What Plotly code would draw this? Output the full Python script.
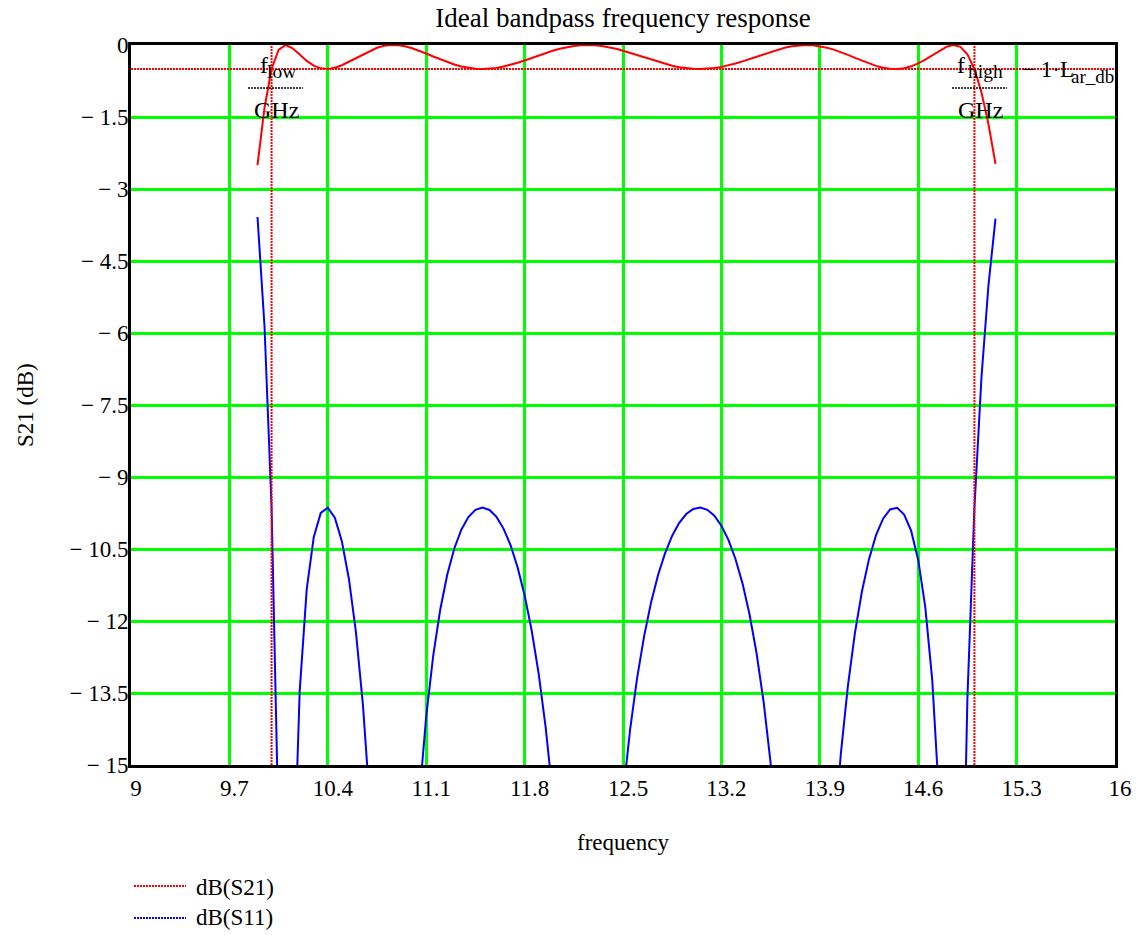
import plotly.graph_objects as go

# ---------------- data ----------------
freq_ghz = [9.90, 9.95, 10.00, 10.05, 10.10, 10.15, 10.20, 10.25, 10.30, 10.35,
            10.40, 10.45, 10.50, 10.55, 10.60, 10.65, 10.70, 10.75, 10.80, 10.85,
            10.90, 10.95, 11.00, 11.05, 11.10, 11.15, 11.20, 11.25, 11.30, 11.35,
            11.40, 11.45, 11.50, 11.55, 11.60, 11.65, 11.70, 11.75, 11.80, 11.85,
            11.90, 11.95, 12.00, 12.05, 12.10, 12.15, 12.20, 12.25, 12.30, 12.35,
            12.40, 12.45, 12.50, 12.55, 12.60, 12.65, 12.70, 12.75, 12.80, 12.85,
            12.90, 12.95, 13.00, 13.05, 13.10, 13.15, 13.20, 13.25, 13.30, 13.35,
            13.40, 13.45, 13.50, 13.55, 13.60, 13.65, 13.70, 13.75, 13.80, 13.85,
            13.90, 13.95, 14.00, 14.05, 14.10, 14.15, 14.20, 14.25, 14.30, 14.35,
            14.40, 14.45, 14.50, 14.55, 14.60, 14.65, 14.70, 14.75, 14.80, 14.85,
            14.90, 14.95, 15.00, 15.05, 15.10, 15.15]

s21_db = [-2.505, -1.301, -0.500, -0.100, -0.000, -0.068, -0.200, -0.331, -0.430, -0.486,
          -0.499, -0.475, -0.422, -0.349, -0.268, -0.187, -0.115, -0.057, -0.018, -0.001,
          -0.005, -0.028, -0.067, -0.118, -0.177, -0.239, -0.300, -0.357, -0.406, -0.447,
          -0.476, -0.494, -0.500, -0.494, -0.477, -0.449, -0.413, -0.370, -0.323, -0.269,
          -0.218, -0.168, -0.120, -0.079, -0.045, -0.020, -0.005, -0.000, -0.006, -0.022,
          -0.047, -0.080, -0.120, -0.165, -0.213, -0.262, -0.311, -0.356, -0.398, -0.434,
          -0.463, -0.484, -0.496, -0.500, -0.494, -0.479, -0.456, -0.424, -0.386, -0.341,
          -0.293, -0.242, -0.190, -0.141, -0.096, -0.057, -0.027, -0.008, -0.000, -0.005,
          -0.024, -0.055, -0.097, -0.148, -0.206, -0.267, -0.328, -0.385, -0.435, -0.472,
          -0.495, -0.499, -0.483, -0.444, -0.384, -0.304, -0.211, -0.117, -0.038, -0.000,
          -0.039, -0.193, -0.500, -0.985, -1.651, -2.478]

s11_db = [-3.582, -5.869, -9.636, -16.429, -47.4, -18.056, -13.465, -11.342, -10.253, -9.748,
          -9.641, -9.848, -10.339, -11.119, -12.228, -13.748, -15.839, -18.844, -23.72, -36.15,
          -29.59, -21.954, -18.159, -15.718, -13.993, -12.719, -11.759, -11.033, -10.490, -10.099,
          -9.834, -9.684, -9.636, -9.686, -9.831, -10.075, -10.421, -10.880, -11.465, -12.192,
          -13.097, -14.220, -15.628, -17.436, -19.858, -23.377, -29.59, -55.0, -28.74, -23.01,
          -19.676, -17.361, -15.628, -14.275, -13.194, -12.320, -11.611, -11.037, -10.580, -10.222,
          -9.955, -9.771, -9.665, -9.636, -9.683, -9.807, -10.015, -10.311, -10.707, -11.216,
          -11.860, -12.667, -13.677, -14.957, -16.614, -18.839, -22.062, -27.565, -48.7, -29.11,
          -22.652, -19.044, -16.581, -14.756, -13.350, -12.247, -11.381, -10.711, -10.212, -9.868,
          -9.677, -9.642, -9.781, -10.123, -10.728, -11.699, -13.232, -15.768, -20.644, -43.0,
          -20.515, -13.622, -9.636, -6.927, -5.000, -3.617]

f_low = 10.0
f_high = 15.0
L_ar_db = 0.5

x_ticks = [9, 9.7, 10.4, 11.1, 11.8, 12.5, 13.2, 13.9, 14.6, 15.3, 16]
x_tick_text = ["9", "9.7", "10.4", "11.1", "11.8", "12.5", "13.2", "13.9", "14.6", "15.3", "16"]
y_ticks = [0, -1.5, -3, -4.5, -6, -7.5, -9, -10.5, -12, -13.5, -15]
y_tick_text = ["0", "\u2212 1.5", "\u2212 3", "\u2212 4.5", "\u2212 6", "\u2212 7.5", "\u2212 9",
               "\u2212 10.5", "\u2212 12", "\u2212 13.5", "\u2212 15"]

series_names = ["dB(S21)", "dB(S11)"]
series_colors = ["#ff0000", "#0000ff"]

# ---------------- layout geometry ----------------
W, H = 1143, 935
ML, MR, MT, MB = 131, 28, 45, 170
PW, PH = W - ML - MR, H - MT - MB
FONT = "Liberation Serif, Times New Roman, serif"


def px(xp):
    return (xp - ML) / PW


def py(yp):
    return (H - MB - yp) / PH


fig = go.Figure()
fig.add_trace(go.Scatter(x=freq_ghz, y=s21_db, mode="lines", name=series_names[0],
                         line=dict(color=series_colors[0], width=2), showlegend=False))
fig.add_trace(go.Scatter(x=freq_ghz, y=s11_db, mode="lines", name=series_names[1],
                         line=dict(color=series_colors[1], width=2), showlegend=False))

shapes = []
# marker lines
for fx in (f_low, f_high):
    shapes.append(dict(type="line", xref="x", yref="paper", x0=fx, x1=fx, y0=0, y1=1,
                       line=dict(color="#ff0000", width=2, dash="2px,1px"), layer="above"))
shapes.append(dict(type="line", xref="paper", yref="y", x0=0, x1=1, y0=-L_ar_db, y1=-L_ar_db,
                   line=dict(color="#ff0000", width=2, dash="2px,1px"), layer="above"))
# fraction bars
for (a, b) in ((248, 303), (952, 1007)):
    shapes.append(dict(type="line", xref="paper", yref="paper", x0=px(a), x1=px(b),
                       y0=py(88), y1=py(88),
                       line=dict(color="black", width=1.5, dash="2px,1px"), layer="above"))
# legend samples
for i, yy in enumerate((886, 918)):
    shapes.append(dict(type="line", xref="paper", yref="paper", x0=px(134), x1=px(186),
                       y0=py(yy), y1=py(yy),
                       line=dict(color=series_colors[i], width=2, dash="2px,1px")))

ann = []


def text(xp, yp, s, xanchor="center", size=23, angle=0):
    ann.append(dict(xref="paper", yref="paper", x=px(xp), y=py(yp), text=s, showarrow=False,
                    xanchor=xanchor, yanchor="middle", textangle=angle,
                    font=dict(family=FONT, size=size, color="black")))


# marker labels (Mathcad style: large subscripts, lowered)
text(258, 65, "f", xanchor="left", size=24)
text(265, 72, "low", xanchor="left", size=19.5)
text(276, 110, "GHz", size=24)
text(955, 65, "f", xanchor="left", size=24)
text(966, 72, "high", xanchor="left", size=19.5)
text(980, 110, "GHz", size=24)
text(1020, 69, "\u2212 1\u00b7L", xanchor="left", size=23)
text(1069, 77, "ar_db", xanchor="left", size=19)

text(623, 842, "frequency")
text(25, 405, "S21 (dB)", angle=-90)
text(194, 887, series_names[0], xanchor="left")
text(194, 918, series_names[1], xanchor="left")

fig.update_layout(
    width=W, height=H,
    margin=dict(l=ML, r=MR, t=MT, b=MB),
    paper_bgcolor="white", plot_bgcolor="white",
    title=dict(text="Ideal bandpass frequency response", x=0.5, xref="paper", xanchor="center",
               y=1 - 18 / H, yref="container", yanchor="middle",
               font=dict(family=FONT, size=27, color="black")),
    font=dict(family=FONT, size=23, color="black"),
    shapes=shapes, annotations=ann, showlegend=False,
)
fig.update_xaxes(range=[9, 16], tickvals=x_ticks, ticktext=x_tick_text,
                 showgrid=True, gridcolor="#00ff00", gridwidth=2.5, zeroline=False,
                 showline=True, linecolor="black", linewidth=3, mirror=True,
                 ticks="", ticklabelshift=5, ticklabelstandoff=0,
                 tickfont=dict(family=FONT, size=23, color="black"))
fig.update_yaxes(range=[-15, 0], tickvals=y_ticks, ticktext=y_tick_text,
                 showgrid=True, gridcolor="#00ff00", gridwidth=2.5, zeroline=False,
                 showline=True, linecolor="black", linewidth=3, mirror=True,
                 ticks="", ticklabelstandoff=-5,
                 tickfont=dict(family=FONT, size=23, color="black"))

fig.write_html("out.html", config={"displayModeBar": False},
               post_script="document.body.style.margin='0px';")
